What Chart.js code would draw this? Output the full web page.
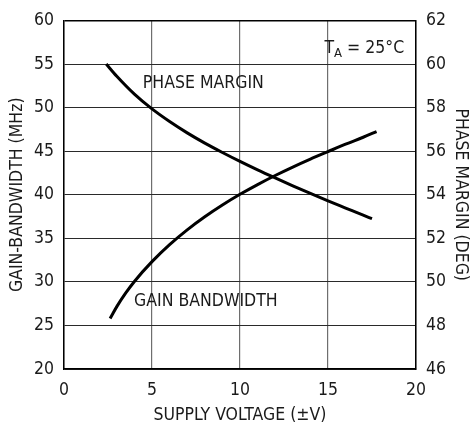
<!DOCTYPE html>
<html>
<head>
<meta charset="utf-8">
<script src="https://cdn.jsdelivr.net/npm/chart.js@4.4.1/dist/chart.umd.min.js"></script>
<style>
  html, body { margin: 0; padding: 0; background: #fff; }
  #wrap { width: 474px; height: 424px; }
</style>
</head>
<body>
<div id="wrap"><canvas id="c" width="474" height="424"></canvas></div>
<script>
// ---- data ----
const gbwVoltage = [2.62, 3.0, 3.5, 4.0, 5.0, 6.0, 7.0, 8.0, 9.0, 10.0, 11.0, 12.0, 13.0, 14.0, 15.0, 16.0, 17.0, 17.76];
const gbwMHz     = [25.8, 27.16, 28.7, 30.05, 32.32, 34.27, 35.97, 37.47, 38.82, 40.05, 41.17, 42.21, 43.18, 44.09, 44.95, 45.8, 46.6, 47.25];
const pmVoltage  = [2.4, 3.0, 4.0, 5.0, 6.0, 7.0, 8.0, 9.0, 10.0, 11.0, 12.0, 13.0, 14.0, 15.0, 16.0, 17.0, 17.5];
const pmDeg      = [60.0, 59.44, 58.62, 57.94, 57.36, 56.84, 56.37, 55.94, 55.53, 55.14, 54.77, 54.41, 54.06, 53.72, 53.39, 53.06, 52.9];

const xTicks  = [0, 5, 10, 15, 20];
const yLeftTicks  = [20, 25, 30, 35, 40, 45, 50, 55, 60];
const yRightTicks = [46, 48, 50, 52, 54, 56, 58, 60, 62];

const labels = {
  xTitle: 'SUPPLY VOLTAGE (±V)',
  yTitle: 'GAIN-BANDWIDTH (MHz)',
  y2Title: 'PHASE MARGIN (DEG)',
  pm: 'PHASE MARGIN',
  gbw: 'GAIN BANDWIDTH'
};

const FONT = "'DejaVu Sans Condensed', 'Liberation Sans Narrow', sans-serif";
const FS = 17.5;
const TXT = '#1a1a1a';

const toPts = (xs, ys) => xs.map((x, i) => ({ x: x, y: ys[i] }));

const annot = {
  id: 'annot',
  afterDatasetsDraw(chart) {
    const { ctx, scales } = chart;
    const X = v => scales.x.getPixelForValue(v);
    const Y = v => scales.y.getPixelForValue(v);
    ctx.save();
    ctx.fillStyle = TXT;
    ctx.textBaseline = 'middle';
    ctx.textAlign = 'left';
    ctx.font = FS + 'px ' + FONT;
    ctx.fillText(labels.pm, X(4.48), Y(52.8));
    ctx.fillText(labels.gbw, X(3.98), Y(27.8));
    // T_A = 25°C
    let tx = X(14.8), ty = scales.y2.getPixelForValue(60.7);
    ctx.fillText('T', tx, ty);
    tx += ctx.measureText('T').width;
    ctx.font = '13px ' + FONT;
    ctx.fillText('A', tx, ty + 5);
    tx += ctx.measureText('A').width;
    ctx.font = FS + 'px ' + FONT;
    ctx.fillText(' = 25°C', tx, ty);
    ctx.restore();
  }
};

new Chart(document.getElementById('c'), {
  type: 'scatter',
  data: {
    datasets: [
      {
        label: labels.gbw,
        data: toPts(gbwVoltage, gbwMHz),
        yAxisID: 'y',
        showLine: true,
        borderColor: '#000',
        borderWidth: 3,
        pointRadius: 0,
        cubicInterpolationMode: 'monotone',
        borderCapStyle: 'butt'
      },
      {
        label: labels.pm,
        data: toPts(pmVoltage, pmDeg),
        yAxisID: 'y2',
        showLine: true,
        borderColor: '#000',
        borderWidth: 3,
        pointRadius: 0,
        cubicInterpolationMode: 'monotone',
        borderCapStyle: 'butt'
      }
    ]
  },
  options: {
    responsive: false,
    animation: false,
    devicePixelRatio: 1,
    layout: { padding: { top: 18, left: 0, right: 0, bottom: 0 } },
    plugins: { legend: { display: false }, tooltip: { enabled: false } },
    scales: {
      x: {
        type: 'linear',
        min: 0, max: 20,
        afterBuildTicks: s => { s.ticks = xTicks.map(v => ({ value: v })); },
        afterFit: s => { s.height = 55; },
        ticks: { color: TXT, font: { family: FONT, size: FS }, padding: 11, maxRotation: 0 },
        grid: { color: '#6e6e6e', lineWidth: 1.2, drawTicks: false },
        border: { display: true, color: '#000', width: 1.5 },
        title: { display: true, text: labels.xTitle, color: TXT,
                 font: { family: FONT, size: FS, lineHeight: 1 }, padding: { top: 0, bottom: 0 } }
      },
      y: {
        type: 'linear', position: 'left',
        min: 20, max: 60,
        afterBuildTicks: s => { s.ticks = yLeftTicks.map(v => ({ value: v })); },
        afterFit: s => { s.width = 64; },
        ticks: { color: TXT, font: { family: FONT, size: FS }, padding: 10 },
        grid: { color: c => (c.tick && c.tick.value === 60) ? '#000' : '#2a2a2a',
                lineWidth: c => (c.tick && c.tick.value === 60) ? 1.5 : 1, drawTicks: false },
        border: { display: true, color: '#000', width: 1.5 },
        title: { display: true, text: labels.yTitle, color: TXT,
                 font: { family: FONT, size: FS, lineHeight: 1.2 }, padding: { top: 7, bottom: 0 } }
      },
      y2: {
        type: 'linear', position: 'right',
        min: 46, max: 62,
        afterBuildTicks: s => { s.ticks = yRightTicks.map(v => ({ value: v })); },
        afterFit: s => { s.width = 58; },
        ticks: { color: TXT, font: { family: FONT, size: FS }, padding: 10 },
        grid: { display: false, drawTicks: false },
        border: { display: true, color: '#000', width: 1.5 },
        title: { display: true, text: labels.y2Title, color: TXT,
                 font: { family: FONT, size: FS, lineHeight: 1.2 }, padding: { top: 3, bottom: 0 } }
      }
    }
  },
  plugins: [annot]
});
</script>
</body>
</html>
